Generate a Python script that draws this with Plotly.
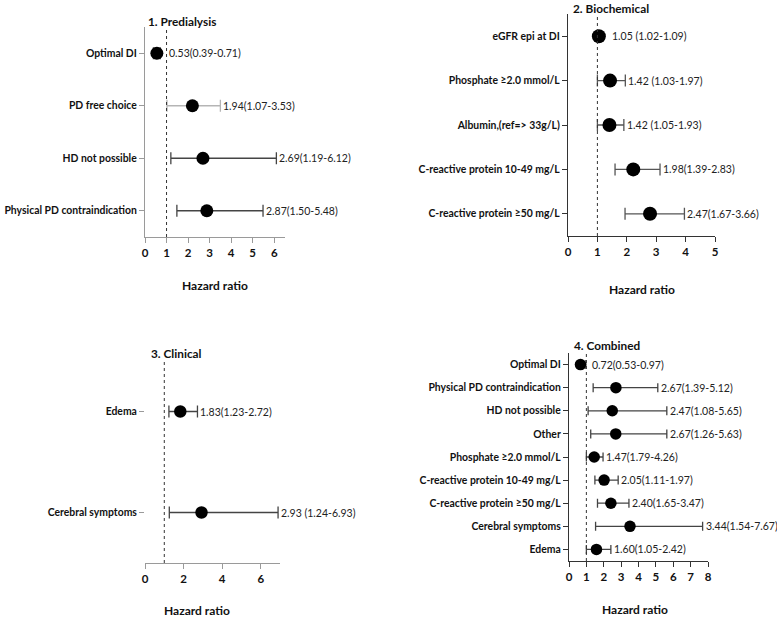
import plotly.graph_objects as go

W, H = 777, 617

# ---------------- data ----------------
p1_labels = ["Optimal DI", "PD free choice", "HD not possible", "Physical PD contraindication"]
p1_hr = [0.55, 2.20, 2.69, 2.87]
p1_lo = [0.39, 1.02, 1.20, 1.48]
p1_hi = [0.71, 3.50, 6.10, 5.48]
p1_text = ["0.53(0.39-0.71)", "1.94(1.07-3.53)", "2.69(1.19-6.12)", "2.87(1.50-5.48)"]

p2_labels = ["eGFR epi at DI", "Phosphate ≥2.0 mmol/L", "Albumin,(ref=> 33g/L)",
             "C-reactive protein 10-49 mg/L", "C-reactive protein ≥50 mg/L"]
p2_hr = [1.05, 1.43, 1.41, 2.22, 2.79]
p2_lo = [1.02, 1.00, 1.00, 1.60, 1.94]
p2_hi = [1.09, 1.95, 1.90, 3.13, 3.96]
p2_text = ["1.05 (1.02-1.09)", "1.42 (1.03-1.97)", "1.42 (1.05-1.93)", "1.98(1.39-2.83)", "2.47(1.67-3.66)"]

p3_labels = ["Edema", "Cerebral symptoms"]
p3_hr = [1.83, 2.93]
p3_lo = [1.24, 1.26]
p3_hi = [2.72, 6.90]
p3_text = ["1.83(1.23-2.72)", "2.93 (1.24-6.93)"]

p4_labels = ["Optimal DI", "Physical PD contraindication", "HD not possible", "Other",
             "Phosphate ≥2.0 mmol/L", "C-reactive protein 10-49 mg/L", "C-reactive protein ≥50 mg/L",
             "Cerebral symptoms", "Edema"]
p4_hr = [0.66, 2.70, 2.49, 2.69, 1.45, 2.02, 2.41, 3.51, 1.58]
p4_lo = [0.53, 1.39, 1.10, 1.25, 1.00, 1.49, 1.64, 1.53, 1.00]
p4_hi = [0.97, 5.11, 5.63, 5.63, 1.96, 2.83, 3.45, 7.69, 2.41]
p4_text = ["0.72(0.53-0.97)", "2.67(1.39-5.12)", "2.47(1.08-5.65)", "2.67(1.26-5.63)",
           "1.47(1.79-4.26)", "2.05(1.11-1.97)", "2.40(1.65-3.47)", "3.44(1.54-7.67)", "1.60(1.05-2.42)"]

titles = ["1. Predialysis", "2. Biochemical", "3. Clinical", "4. Combined"]
x_ticks = [[0, 1, 2, 3, 4, 5, 6], [0, 1, 2, 3, 4, 5], [0, 2, 4, 6], [0, 1, 2, 3, 4, 5, 6, 7, 8]]
x_title = "Hazard ratio"

# ---------------- styling / layout (screen pixels) ----------------
FONT = "Lato, Roboto, sans-serif"
panels = [
    dict(labels=p1_labels, hr=p1_hr, lo=p1_lo, hi=p1_hi, text=p1_text,
         x0=145, x1=285, y0=27, y1=237, xr=6.5, axcol="#9a9a9a", yline=True,
         bar_cols=["#444", "#b5b5b5", "#444", "#444"], msize=13, cap=6,
         title_xy=(146, 22), xt_y=286, xt_x=215),
    dict(labels=p2_labels, hr=p2_hr, lo=p2_lo, hi=p2_hi, text=p2_text,
         x0=568, x1=715, y0=14, y1=236, xr=5.0, axcol="#333", yline=True,
         bar_cols=["#555"] * 5, msize=14, cap=6,
         title_xy=(571, 8.5), xt_y=289, xt_x=642),
    dict(labels=p3_labels, hr=p3_hr, lo=p3_lo, hi=p3_hi, text=p3_text,
         x0=145, x1=280, y0=361, y1=563, xr=7.0, axcol="#9a9a9a", yline=False,
         bar_cols=["#444"] * 2, msize=12.5, cap=6,
         title_xy=(149, 354), xt_y=610, xt_x=197),
    dict(labels=p4_labels, hr=p4_hr, lo=p4_lo, hi=p4_hi, text=p4_text,
         x0=569, x1=708, y0=353, y1=561, xr=8.0, axcol="#333", yline=True,
         bar_cols=["#444"] * 9, msize=11.5, cap=4.5,
         title_xy=(572, 345), xt_y=609, xt_x=635),
]


def px(x):
    return x / W


def py(y):
    return 1 - y / H


fig = go.Figure()
annotations = []
shapes = []

for i, p in enumerate(panels):
    k = "" if i == 0 else str(i + 1)
    xa, ya = "x" + k, "y" + k
    n = len(p["labels"])
    ys = list(range(n))
    ppu = (p["x1"] - p["x0"]) / p["xr"]
    for j in range(n):
        fig.add_trace(go.Scatter(
            x=[p["hr"][j]], y=[ys[j]], xaxis=xa, yaxis=ya, mode="markers",
            marker=dict(color="black", size=p["msize"]),
            error_x=dict(type="data", symmetric=False,
                         array=[p["hi"][j] - p["hr"][j]],
                         arrayminus=[p["hr"][j] - p["lo"][j]],
                         color=p["bar_cols"][j], thickness=1.3, width=p["cap"]),
            showlegend=False, hoverinfo="skip", cliponaxis=False))
        # value label to the right of the bar (or marker)
        hi_px = p["hi"][j] * ppu + 1
        hr_px = p["hr"][j] * ppu + p["msize"] / 2 + 4
        lab_x = max(hi_px, hr_px) / ppu
        annotations.append(dict(x=lab_x, y=ys[j], xref=xa, yref=ya, text=p["text"][j],
                                showarrow=False, xanchor="left", yanchor="middle",
                                font=dict(family=FONT, size=10.5, color="#222")))
    axis_common = dict(showgrid=False, zeroline=False, linecolor=p["axcol"], linewidth=1.3,
                       ticks="outside", tickcolor=p["axcol"], tickwidth=1.3, automargin=False)
    fig.update_layout(**{
        ("xaxis" + k): dict(axis_common, domain=[px(p["x0"]), px(p["x1"])],
                            range=[0, p["xr"]], tickvals=x_ticks[i], ticklen=5,
                            tickfont=dict(family=FONT, size=11.5, color="#111", weight="bold"),
                            showline=True, anchor=ya),
        ("yaxis" + k): dict(axis_common, domain=[py(p["y1"]), py(p["y0"])],
                            range=[n - 0.5, -0.5], tickvals=ys, ticktext=p["labels"],
                            tickfont=dict(family=FONT, size=10.4, color="#111", weight="bold"),
                            ticklen=5, showline=p["yline"], anchor=xa),
    })
    # reference line at HR = 1
    shapes.append(dict(type="line", x0=1, x1=1, xref=xa, y0=0, y1=1, yref=ya + " domain",
                       line=dict(color="#333", width=1, dash="dot")))
    # panel title
    tx, ty = p["title_xy"]
    annotations.append(dict(x=px(tx), y=py(ty), xref="paper", yref="paper", text=titles[i],
                            showarrow=False, xanchor="left", yanchor="middle",
                            font=dict(family=FONT, size=11.8, color="#111", weight="bold")))
    annotations.append(dict(x=px(p["xt_x"]), y=py(p["xt_y"]), xref="paper", yref="paper",
                            text=x_title, showarrow=False, xanchor="center", yanchor="middle",
                            font=dict(family=FONT, size=12, color="#111", weight="bold")))

fig.update_layout(width=W, height=H, margin=dict(l=0, r=0, t=0, b=0),
                  plot_bgcolor="white", paper_bgcolor="white",
                  annotations=annotations, shapes=shapes)

fig.write_html("out.html", config={"displayModeBar": False},
               post_script="document.body.style.margin='0';")
